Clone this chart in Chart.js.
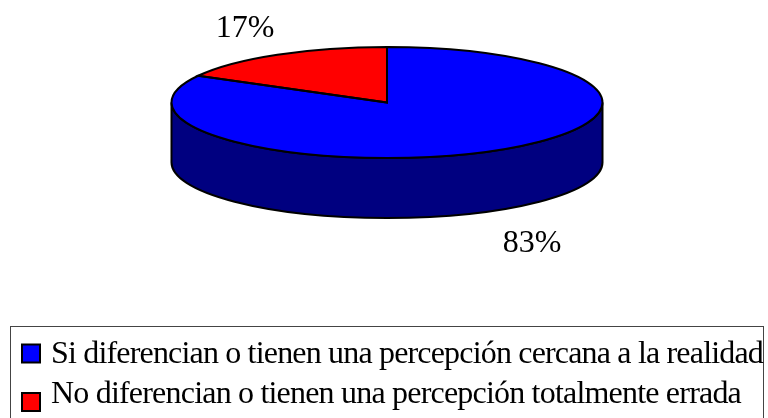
<!DOCTYPE html>
<html>
<head>
<meta charset="utf-8">
<style>
  html, body { margin: 0; padding: 0; background: #fff; overflow: hidden; }
  #wrap { width: 768px; height: 418px; position: relative; }
</style>
<script src="https://cdn.jsdelivr.net/npm/chart.js@4/dist/chart.umd.min.js"></script>
</head>
<body>
<div id="wrap"><canvas id="pieChart" width="768" height="418"></canvas></div>
<script>
const categories = [
  "Si diferencian o tienen una percepción cercana a la realidad",
  "No diferencian o tienen una percepción totalmente errada"
];
const percentValues = [83, 17];
const sliceColors = ["#0000ff", "#ff0000"];
const sideColor = "#000080";

// pie is squashed to look like the old 3d excel pie
const centerX = 387, centerY = 102.5;
const radiusX = 215.5, radiusY = 55.5, depth = 60;
const serif = "'Liberation Serif', 'Times New Roman', serif";

// where the % labels and the legend rows go
const labelPos = [{ x: 532, y: 252 }, { x: 245, y: 37 }];
const legendRows = [{ box: 344.5, text: 363, width: 712 }, { box: 393, text: 403, width: 690 }];

const pie3d = {
  id: "pie3d",
  beforeDatasetsDraw(chart) {
    const ctx = chart.ctx;
    const arc = chart.getDatasetMeta(0).data[0];

    // side wall
    ctx.save();
    ctx.beginPath();
    ctx.ellipse(centerX, centerY, radiusX, radiusY, 0, Math.PI, 0, true);
    ctx.lineTo(centerX + radiusX, centerY + depth);
    ctx.ellipse(centerX, centerY + depth, radiusX, radiusY, 0, 0, Math.PI);
    ctx.closePath();
    ctx.fillStyle = sideColor;
    ctx.fill();
    ctx.lineWidth = 2;
    ctx.strokeStyle = "#000";
    ctx.stroke();
    ctx.restore();

    // squash the library's arcs onto the top face
    ctx.save();
    ctx.translate(centerX, centerY);
    ctx.scale(radiusX / arc.outerRadius, radiusY / arc.outerRadius);
    ctx.translate(-arc.x, -arc.y);
  },
  afterDatasetsDraw(chart) {
    const ctx = chart.ctx;
    ctx.restore();

    // outlines done after the restore so the line width stays even
    chart.getDatasetMeta(0).data.forEach(function (arc) {
      ctx.beginPath();
      ctx.moveTo(centerX, centerY);
      ctx.ellipse(centerX, centerY, radiusX, radiusY, 0, arc.startAngle, arc.endAngle);
      ctx.closePath();
      ctx.lineWidth = 2;
      ctx.strokeStyle = "#000";
      ctx.stroke();
    });

    // % labels
    ctx.save();
    ctx.fillStyle = "#000";
    ctx.font = "32px " + serif;
    ctx.textAlign = "center";
    ctx.textBaseline = "alphabetic";
    percentValues.forEach(function (v, i) {
      ctx.fillText(v + "%", labelPos[i].x, labelPos[i].y);
    });
    ctx.restore();

    // legend box, bottom edge runs off the picture
    ctx.save();
    ctx.strokeStyle = "#444";
    ctx.lineWidth = 1;
    ctx.strokeRect(10.5, 326.5, 753, 100);
    ctx.font = "32px " + serif;
    ctx.textAlign = "left";
    categories.forEach(function (name, i) {
      ctx.fillStyle = sliceColors[i];
      ctx.fillRect(22, legendRows[i].box, 18, 18);
      ctx.strokeStyle = "#000";
      ctx.lineWidth = 2;
      ctx.strokeRect(22, legendRows[i].box, 18, 18);
      ctx.fillStyle = "#000";
      // original text is set tighter than the font's own widths
      ctx.letterSpacing = "0px";
      const natural = ctx.measureText(name).width;
      ctx.letterSpacing = ((legendRows[i].width - natural) / name.length) + "px";
      ctx.fillText(name, 51, legendRows[i].text);
      ctx.letterSpacing = "0px";
    });
    ctx.restore();
  }
};

new Chart(document.getElementById("pieChart"), {
  type: "pie",
  data: {
    labels: categories,
    datasets: [{
      data: percentValues,
      backgroundColor: sliceColors,
      borderWidth: 0,
      clip: false
    }]
  },
  options: {
    responsive: false,
    animation: false,
    radius: 200,
    plugins: {
      legend: { display: false },
      tooltip: { enabled: false }
    }
  },
  plugins: [pie3d]
});
</script>
</body>
</html>
